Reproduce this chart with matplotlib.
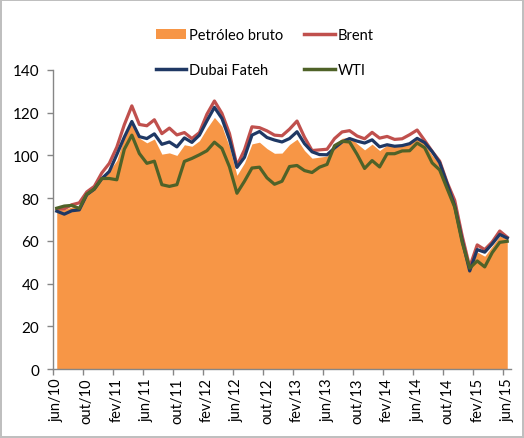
import matplotlib
matplotlib.use("Agg")
import matplotlib.pyplot as plt
from matplotlib.patches import Patch
from matplotlib.lines import Line2D
import numpy as np

plt.rcParams['font.family'] = ['Lato', 'DejaVu Sans']

m_names = ["jan","fev","mar","abr","mai","jun","jul","ago","set","out","nov","dez"]
labels_all = []
for i in range(61):
    mi = (5 + i) % 12
    yr = 10 + (5 + i) // 12
    labels_all.append(f"{m_names[mi]}/{yr}")

bruto = [74.8, 74.7, 75.9, 76.1, 81.7, 84.3, 90.0,
         92.7, 97.7, 108.7, 116.3, 108.1, 105.9, 107.7, 100.6, 101.2, 100.0, 105.0, 104.3,
         106.9, 112.7, 117.8, 113.7, 104.0, 90.7, 96.5, 105.4, 106.2, 103.2, 101.0, 101.1,
         105.1, 107.6, 102.3, 98.7, 99.2, 99.7, 105.3, 108.0, 108.6, 105.5, 102.6, 105.3,
         102.3, 104.8, 104.2, 104.9, 105.8, 108.5, 105.5, 100.1, 95.7, 86.1, 77.1, 60.6,
         47.0, 54.8, 52.8, 57.5, 62.3, 60.9]
brent = [75.0, 75.0, 76.9, 77.8, 82.9, 85.5, 91.8,
         96.3, 103.9, 114.4, 123.2, 114.5, 113.9, 116.7, 110.2, 112.8, 109.6, 110.7, 107.9,
         110.7, 119.3, 125.5, 119.7, 110.3, 95.2, 102.6, 113.4, 113.0, 111.5, 109.5, 109.2,
         112.3, 116.1, 108.5, 102.3, 102.6, 102.9, 107.9, 111.0, 111.6, 109.1, 107.8, 110.8,
         108.1, 108.9, 107.5, 107.8, 109.7, 111.9, 107.0, 101.9, 97.3, 87.3, 79.0, 62.3,
         47.8, 58.1, 55.9, 59.5, 64.6, 61.7]
dubai = [73.9, 72.5, 74.1, 74.5, 81.6, 84.2, 89.1,
         92.5, 100.4, 108.6, 115.9, 108.8, 107.9, 110.1, 105.2, 106.3, 104.0, 108.2, 106.1,
         109.5, 116.2, 122.5, 117.3, 107.5, 94.4, 99.1, 109.5, 111.2, 108.4, 107.2, 106.3,
         107.9, 111.1, 105.5, 101.7, 100.4, 100.3, 103.5, 106.3, 107.9, 106.7, 105.8, 107.3,
         104.0, 105.0, 104.3, 104.6, 105.5, 108.0, 106.0, 101.8, 96.6, 86.7, 76.4, 60.2,
         45.9, 55.9, 54.7, 58.6, 63.0, 61.3]
wti = [75.3, 76.3, 76.6, 75.2, 81.9, 84.3, 89.2,
       89.2, 88.6, 102.9, 109.5, 100.9, 96.3, 97.3, 86.3, 85.5, 86.3, 97.2, 98.6,
       100.3, 102.2, 106.2, 103.3, 94.7, 82.3, 87.9, 94.1, 94.5, 89.5, 86.5, 87.9,
       94.8, 95.3, 92.9, 92.0, 94.5, 95.8, 104.6, 106.6, 106.3, 100.5, 93.9, 97.6,
       94.6, 100.8, 100.8, 102.1, 102.2, 105.8, 103.6, 96.5, 93.2, 84.4, 75.8, 59.3,
       47.2, 50.6, 47.8, 54.5, 59.3, 59.8]

c_fill = "#F79646"
c_brent = "#C0504D"
c_dubai = "#1F3864"
c_wti = "#4F6228"

fig = plt.figure(figsize=(5.24, 4.39), dpi=100)
fig.patch.set_edgecolor("#BFBFBF")
fig.patch.set_linewidth(1.5)
ax = fig.add_axes([53/524, 1-370/439, (511-53)/524, (370-71)/439])

x = np.arange(len(bruto))
ax.fill_between(x, 0, bruto, color=c_fill, linewidth=0, zorder=1)
ax.plot(x, brent, color=c_brent, lw=2.3, zorder=3)
ax.plot(x, dubai, color=c_dubai, lw=2.3, zorder=4)
ax.plot(x, wti, color=c_wti, lw=2.3, zorder=5)

ax.set_xlim(-0.5, 60.5)
ax.set_ylim(0, 140)
ax.set_yticks(range(0, 141, 20))
ax.tick_params(axis='y', labelsize=11, length=4, color="#868686", width=1, pad=6)

ax.set_xticks(np.arange(-0.5, 60, 4))
ax.set_xticklabels([])
ax.tick_params(axis='x', which='major', length=4, color="#868686", width=1)
ax.set_xticks(np.arange(0, 61, 4), minor=True)
ax.set_xticklabels([labels_all[i] for i in range(0, 61, 4)], minor=True, rotation=90, fontsize=10.5)
ax.tick_params(axis='x', which='minor', length=0, pad=6)

for s in ['top', 'right']:
    ax.spines[s].set_visible(False)
for s in ['left', 'bottom']:
    ax.spines[s].set_color("#868686")
    ax.spines[s].set_linewidth(1)

handles = [Patch(facecolor=c_fill, edgecolor='none'),
           Line2D([], [], color=c_dubai, lw=2.5),
           Line2D([], [], color=c_brent, lw=2.5),
           Line2D([], [], color=c_wti, lw=2.5)]
labs = ["Petróleo bruto", "Dubai Fateh", "Brent", "WTI"]
fig.legend(handles, labs, ncol=2, loc='center', bbox_to_anchor=(0.505, 0.878),
           frameon=False, fontsize=10.5, handlelength=2.1, handleheight=0.7,
           handletextpad=0.2, columnspacing=1.4, labelspacing=1.4)

fig.savefig("out.png", dpi=100)
